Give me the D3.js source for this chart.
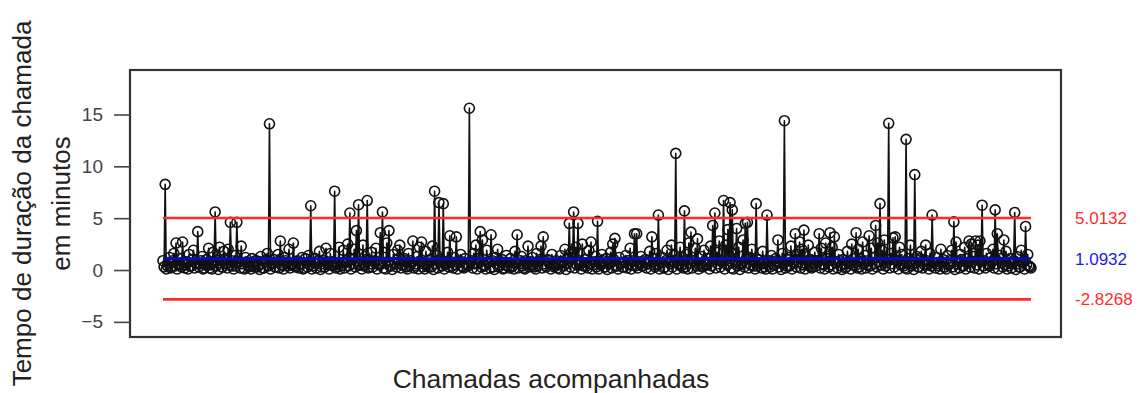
<!DOCTYPE html>
<html>
<head>
<meta charset="utf-8">
<script src="https://cdn.jsdelivr.net/npm/d3@7"></script>
<style>
  html, body { margin: 0; padding: 0; background: #fff; }
  svg { display: block; font-family: "Liberation Sans", Arial, sans-serif; }
</style>
</head>
<body>
<svg id="chart" width="1140" height="393"></svg>
<script>
// Duração de cada chamada acompanhada (minutos), na ordem de observação
const duracao = [
  0.9, 0.3, 8.26, 0.1, 0.4, 0.7, 1.2, 0.2, 0.3, 0.9, 1.6, 0.4, 2.6, 0.1, 0.5, 0.6, 1.1, 0.3, 2.7, 0.8, 0.2, 0.5, 0.8, 0.1, 1.5, 0.4, 0.4, 1.0, 1.9, 0.2, 0.7, 0.6, 3.7, 0.3, 0.6, 0.9, 1.3, 0.1, 0.2, 0.5,
  1.0, 0.6, 2.1, 0.2, 0.5, 0.1, 1.7, 0.8, 5.6, 0.4, 0.9, 0.05, 2.2, 0.7, 0.3, 0.3, 1.8, 1.1, 0.6, 0.2, 2.0, 0.5, 4.6, 0.9, 0.4, 0.1, 1.4, 0.4, 4.6, 0.7, 0.8, 0.2, 2.3, 0.6, 0.2, 0.1, 1.2, 0.8, 0.7, 0.3,
  0.4, 0.1, 1.1, 0.5, 0.3, 0.9, 0.9, 0.3, 0.5, 0.05, 1.3, 0.6, 0.2, 0.2, 0.8, 1.0, 1.6, 0.4, 14.1, 0.1, 0.6, 0.7, 1.0, 0.3, 0.3, 0.8, 1.5, 0.2, 2.8, 0.5, 0.4, 0.1, 1.2, 0.9, 0.7, 0.4, 2.0, 0.2, 0.5, 0.6,
  2.6, 0.4, 0.3, 0.8, 0.9, 0.2, 0.5, 0.6, 1.2, 0.1, 0.2, 1.1, 0.7, 0.3, 1.4, 0.5, 6.2, 0.1, 0.4, 0.7, 1.1, 0.2, 0.6, 0.9, 1.8, 0.05, 0.3, 0.6, 0.9, 0.3, 2.1, 0.8, 0.5, 0.1, 1.6, 0.5, 0.8, 0.4, 7.6, 0.2,
  0.6, 0.3, 2.2, 0.1, 0.4, 0.7, 1.9, 0.2, 0.7, 0.9, 2.5, 0.4, 5.5, 0.1, 1.0, 0.6, 2.0, 0.3, 3.8, 0.8, 6.3, 0.5, 0.5, 0.1, 2.4, 0.4, 1.3, 1.0, 6.7, 0.2, 0.3, 0.6, 1.7, 0.3, 0.8, 0.9, 2.1, 0.1, 0.6, 0.5,
  3.6, 0.6, 5.6, 0.2, 1.2, 0.1, 2.6, 0.8, 3.8, 0.4, 0.4, 0.05, 1.5, 0.7, 0.7, 0.3, 1.9, 1.1, 2.4, 0.2, 0.5, 0.5, 1.1, 0.9, 0.3, 0.1, 1.6, 0.4, 0.9, 0.7, 2.8, 0.2, 0.4, 0.6, 1.3, 0.1, 2.2, 0.8, 2.7, 0.3,
  0.6, 0.1, 1.8, 0.5, 0.3, 0.9, 1.0, 0.3, 2.3, 0.05, 7.6, 0.6, 1.4, 0.2, 6.5, 1.0, 0.8, 0.4, 6.4, 0.1, 0.5, 0.7, 1.7, 0.3, 3.3, 0.8, 0.4, 0.2, 1.2, 0.5, 3.2, 0.1, 0.7, 0.9, 1.5, 0.4, 0.3, 0.2, 1.1, 0.6,
  0.5, 0.4, 15.6, 0.8, 0.9, 0.2, 1.6, 0.6, 2.4, 0.1, 0.6, 1.1, 3.7, 0.3, 2.9, 0.5, 0.4, 0.1, 1.9, 0.7, 0.8, 0.2, 3.4, 0.9, 0.3, 0.05, 1.2, 0.6, 2.0, 0.3, 0.5, 0.8, 1.0, 0.1, 0.2, 0.5, 1.4, 0.4, 0.7, 0.2,
  1.1, 0.3, 0.4, 0.1, 1.8, 0.7, 3.4, 0.2, 0.6, 0.9, 1.3, 0.4, 0.2, 0.1, 0.9, 0.6, 2.3, 0.3, 0.5, 0.8, 1.2, 0.5, 0.3, 0.1, 1.6, 0.4, 0.8, 1.0, 2.3, 0.2, 3.2, 0.6, 0.4, 0.3, 1.0, 0.9, 0.6, 0.1, 1.5, 0.5,
  0.3, 0.6, 0.9, 0.2, 0.5, 0.1, 1.4, 0.8, 0.7, 0.4, 2.0, 0.05, 1.1, 0.7, 4.5, 0.3, 1.7, 1.1, 5.6, 0.2, 2.2, 0.5, 4.5, 0.9, 0.6, 0.1, 2.5, 0.4, 1.0, 0.7, 0.4, 0.2, 1.9, 0.6, 2.7, 0.1, 0.5, 0.8, 1.3, 0.3,
  4.7, 0.1, 0.8, 0.5, 1.5, 0.9, 0.3, 0.3, 1.1, 0.05, 0.6, 0.6, 1.7, 0.2, 2.5, 1.0, 3.05, 0.4, 0.4, 0.1, 1.2, 0.7, 0.7, 0.3, 0.3, 0.8, 1.4, 0.2, 0.9, 0.5, 2.1, 0.1, 0.5, 0.9, 3.5, 0.4, 3.5, 0.2, 0.8, 0.6,
  1.3, 0.4, 0.4, 0.8, 1.0, 0.2, 0.6, 0.6, 1.8, 0.1, 3.2, 1.1, 0.5, 0.3, 1.6, 0.5, 5.3, 0.1, 0.7, 0.7, 1.2, 0.2, 0.3, 0.9, 1.9, 0.05, 0.8, 0.6, 2.4, 0.3, 1.4, 0.8, 11.25, 0.1, 1.0, 0.5, 2.2, 0.4, 0.5, 0.2,
  5.7, 0.3, 1.5, 0.1, 2.6, 0.7, 3.65, 0.2, 0.9, 0.9, 2.1, 0.4, 3.0, 0.1, 0.4, 0.6, 1.3, 0.3, 1.9, 0.8, 0.6, 0.5, 1.1, 0.1, 2.3, 0.4, 4.3, 1.0, 5.5, 0.2, 1.7, 0.6, 2.8, 0.3, 0.8, 0.9, 6.7, 0.1, 2.4, 0.5,
  3.9, 0.6, 6.5, 0.2, 5.8, 0.1, 1.6, 0.8, 4.0, 0.4, 2.2, 0.05, 0.5, 0.7, 2.9, 0.3, 4.5, 1.1, 4.6, 0.2, 1.2, 0.5, 2.0, 0.9, 0.4, 0.1, 6.4, 0.4, 1.0, 0.7, 0.6, 0.2, 1.8, 0.6, 0.3, 0.1, 5.3, 0.8, 0.9, 0.3,
  1.4, 0.1, 0.5, 0.5, 1.1, 0.9, 2.9, 0.3, 0.7, 0.05, 1.6, 0.6, 14.4, 0.2, 0.4, 1.0, 1.2, 0.4, 2.3, 0.1, 0.8, 0.7, 3.5, 0.3, 1.5, 0.8, 2.7, 0.2, 2.0, 0.5, 3.85, 0.1, 0.6, 0.9, 2.4, 0.4, 1.0, 0.2, 0.3, 0.6,
  1.7, 0.4, 0.9, 0.8, 3.5, 0.2, 2.1, 0.6, 0.5, 0.1, 2.6, 1.1, 1.3, 0.3, 3.6, 0.5, 2.2, 0.1, 3.2, 0.7, 0.7, 0.2, 1.5, 0.9, 0.4, 0.05, 1.0, 0.6, 0.2, 0.3, 1.8, 0.8, 0.6, 0.1, 2.5, 0.5, 1.1, 0.4, 3.6, 0.2,
  2.0, 0.3, 0.8, 0.1, 2.7, 0.7, 1.4, 0.2, 0.5, 0.9, 3.3, 0.4, 2.1, 0.1, 1.2, 0.6, 4.3, 0.3, 2.6, 0.8, 6.4, 0.5, 1.9, 0.1, 2.9, 0.4, 0.7, 1.0, 14.15, 0.2, 1.6, 0.6, 3.1, 0.3, 3.2, 0.9, 0.9, 0.1, 2.2, 0.5,
  1.5, 0.6, 0.4, 0.2, 12.6, 0.1, 1.1, 0.8, 2.4, 0.4, 0.6, 0.05, 9.2, 0.7, 1.3, 0.3, 0.3, 1.1, 1.8, 0.2, 0.8, 0.5, 2.4, 0.9, 0.5, 0.1, 1.6, 0.4, 5.3, 0.7, 0.7, 0.2, 1.2, 0.6, 0.4, 0.1, 2.0, 0.8, 1.0, 0.3,
  0.3, 0.1, 1.4, 0.5, 0.6, 0.9, 1.9, 0.3, 4.65, 0.05, 2.7, 0.6, 0.8, 0.2, 1.5, 1.0, 0.4, 0.4, 2.2, 0.1, 1.1, 0.7, 2.8, 0.3, 2.5, 0.8, 1.3, 0.2, 2.8, 0.5, 2.4, 0.1, 2.8, 0.9, 6.25, 0.4, 0.9, 0.2, 1.6, 0.6,
  0.5, 0.4, 1.2, 0.8, 2.0, 0.2, 5.8, 0.6, 3.5, 0.1, 1.4, 1.1, 0.7, 0.3, 2.9, 0.5, 1.8, 0.1, 0.4, 0.7, 1.1, 0.2, 0.6, 0.9, 5.55, 0.05, 1.3, 0.6, 0.3, 0.3, 1.9, 0.8, 0.8, 0.1, 4.2, 0.5, 1.5, 0.4, 0.3, 0.2
];

// Limites da carta de controle: LSC, média, LIC
const limites = [5.0132, 1.0932, -2.8268];
const limitesTexto = ["5.0132", "1.0932", "-2.8268"];
const limitesCor = ["#ff2b2b", "#1a1ae6", "#ff2b2b"];
const linhasCor = ["#ff2b2b", "#0a0ac0", "#ff2b2b"];

const yTicks = [-5, 0, 5, 10, 15];
const tituloY = ["Tempo de duração da chamada", "em minutos"];
const tituloX = "Chamadas acompanhadas";

const svg = d3.select("#chart");
const box = { left: 130, right: 1061, top: 70, bottom: 337 };

const n = duracao.length;
const x = d3.scaleLinear().domain([0, n - 1]).range([163, 1031]);
const y = d3.scaleLinear().domain([-6.46, 19.29]).range([box.bottom, box.top]);

// Série: linha ligando as observações e círculos abertos em cada ponto
const linha = d3.line().x((d, i) => x(i)).y(d => y(d));
svg.append("path")
  .datum(duracao)
  .attr("d", linha)
  .attr("fill", "none")
  .attr("stroke", "#111")
  .attr("stroke-width", 1.6)
  .attr("stroke-linejoin", "round");

svg.append("g")
  .selectAll("circle")
  .data(duracao)
  .join("circle")
  .attr("cx", (d, i) => x(i))
  .attr("cy", d => y(d))
  .attr("r", 5)
  .attr("fill", "none")
  .attr("stroke", "#111")
  .attr("stroke-width", 1.6);

// Linhas de controle
svg.append("g")
  .selectAll("line")
  .data(limites)
  .join("line")
  .attr("x1", x(0))
  .attr("x2", x(n - 1))
  .attr("y1", d => y(d))
  .attr("y2", d => y(d))
  .attr("stroke", (d, i) => linhasCor[i])
  .attr("stroke-width", (d, i) => i === 1 ? 3 : 2.6);

// Valores dos limites à direita do gráfico
svg.append("g")
  .selectAll("text")
  .data(limites)
  .join("text")
  .attr("x", 1075)
  .attr("y", d => y(d))
  .attr("dy", "0.35em")
  .attr("font-size", 17)
  .attr("fill", (d, i) => limitesCor[i])
  .text((d, i) => limitesTexto[i]);

// Moldura do gráfico
svg.append("rect")
  .attr("x", box.left)
  .attr("y", box.top)
  .attr("width", box.right - box.left)
  .attr("height", box.bottom - box.top)
  .attr("fill", "none")
  .attr("stroke", "#333")
  .attr("stroke-width", 2.2);

// Eixo Y
const eixoY = d3.axisLeft(y)
  .tickValues(yTicks)
  .tickSize(16)
  .tickPadding(11)
  .tickFormat(d3.format("d"));
const gy = svg.append("g")
  .attr("transform", `translate(${box.left},0)`)
  .call(eixoY);
gy.select(".domain").remove();
gy.selectAll(".tick line").attr("stroke", "#444").attr("stroke-width", 1.6);
gy.selectAll(".tick text")
  .attr("font-size", 19)
  .attr("font-family", "Liberation Sans, Arial, sans-serif")
  .attr("fill", "#444");

// Títulos dos eixos
const cy = (box.top + box.bottom) / 2;
svg.append("g")
  .selectAll("text")
  .data(tituloY)
  .join("text")
  .attr("transform", (d, i) => `translate(${i === 0 ? 31 : 70},${cy}) rotate(-90)`)
  .attr("text-anchor", "middle")
  .attr("font-size", 26)
  .attr("fill", "#222")
  .text(d => d);

svg.append("text")
  .attr("x", 551)
  .attr("y", 388)
  .attr("text-anchor", "middle")
  .attr("font-size", 26.5)
  .attr("fill", "#222")
  .text(tituloX);
</script>
</body>
</html>
